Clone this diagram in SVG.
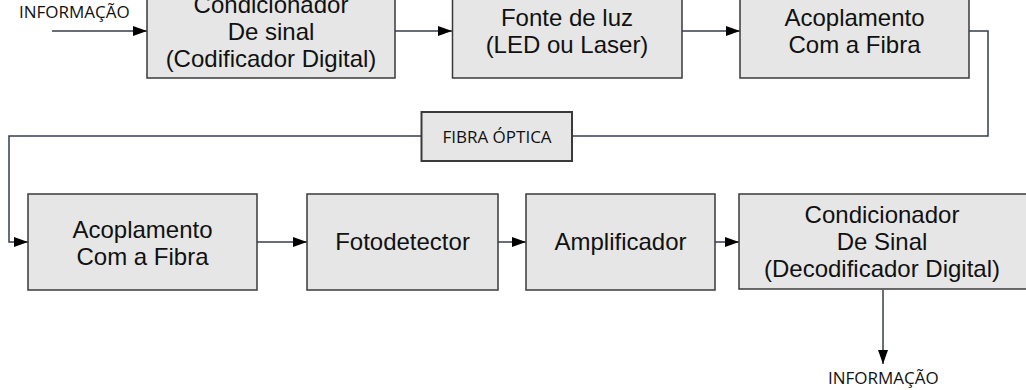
<svg xmlns="http://www.w3.org/2000/svg" width="1026" height="390" viewBox="0 0 1026 390">
<defs>
<style>
.box{fill:#e6e6e6;stroke:#3a3a3a;stroke-width:1.5}
.t{font-family:"Liberation Sans",Arial,sans-serif;font-size:24px;fill:#111;text-anchor:middle}
.lbl{font-family:"Open Sans","Noto Sans",sans-serif;font-size:17px;fill:#111}
.c{fill:none;stroke:#363c4a;stroke-width:1.5}
</style>
<marker id="ah" viewBox="0 0 14 10" refX="14" refY="5" markerWidth="14" markerHeight="10" markerUnits="userSpaceOnUse" orient="auto">
<path d="M0,0 L14,5 L0,10 Z" fill="#000"/>
</marker>
</defs>
<rect width="1026" height="390" fill="#fff"/>
<g id="connectors">
<path class="c" d="M52,31 H147" marker-end="url(#ah)"/>
<path class="c" d="M395,31 H452" marker-end="url(#ah)"/>
<path class="c" d="M682,31 H740" marker-end="url(#ah)"/>
<path class="c" d="M969,31 H988 V136 H572"/>
<path class="c" d="M421,136 H9 V242 H28" marker-end="url(#ah)"/>
<path class="c" d="M257,242 H307" marker-end="url(#ah)"/>
<path class="c" d="M498,242 H526" marker-end="url(#ah)"/>
<path class="c" d="M715,242 H739" marker-end="url(#ah)"/>
<path class="c" d="M883,290 V364" marker-end="url(#ah)"/>
</g>
<g id="info-in"><text class="lbl" x="19" y="18">INFORMAÇÃO</text></g>
<g id="n1">
<rect class="box" x="147" y="-15" width="248" height="93"/>
<text class="t" x="271" y="13">Condicionador</text>
<text class="t" x="271" y="40">De sinal</text>
<text class="t" x="271" y="67">(Codificador Digital)</text>
</g>
<g id="n2">
<rect class="box" x="452.5" y="-16" width="229.5" height="94"/>
<text class="t" x="567" y="26">Fonte de luz</text>
<text class="t" x="567" y="53">(LED ou Laser)</text>
</g>
<g id="n3">
<rect class="box" x="740" y="-16" width="229" height="94"/>
<text class="t" x="854.5" y="26">Acoplamento</text>
<text class="t" x="854.5" y="53">Com a Fibra</text>
</g>
<g id="fibra">
<rect class="box" x="421.5" y="112" width="150.5" height="49" style="stroke-width:2"/>
<text class="lbl" x="497" y="142.5" style="text-anchor:middle">FIBRA ÓPTICA</text>
</g>
<g id="n4">
<rect class="box" x="28" y="194" width="229" height="96"/>
<text class="t" x="142.5" y="238">Acoplamento</text>
<text class="t" x="142.5" y="265">Com a Fibra</text>
</g>
<g id="n5">
<rect class="box" x="307" y="194" width="191" height="96"/>
<text class="t" x="402.5" y="250">Fotodetector</text>
</g>
<g id="n6">
<rect class="box" x="526" y="194" width="189" height="96"/>
<text class="t" x="620.5" y="250">Amplificador</text>
</g>
<g id="n7">
<rect class="box" x="739" y="194" width="300" height="95"/>
<text class="t" x="882" y="223">Condicionador</text>
<text class="t" x="882" y="250">De Sinal</text>
<text class="t" x="882" y="277">(Decodificador Digital)</text>
</g>
<g id="info-out"><text class="lbl" x="828" y="384">INFORMAÇÃO</text></g>
</svg>
